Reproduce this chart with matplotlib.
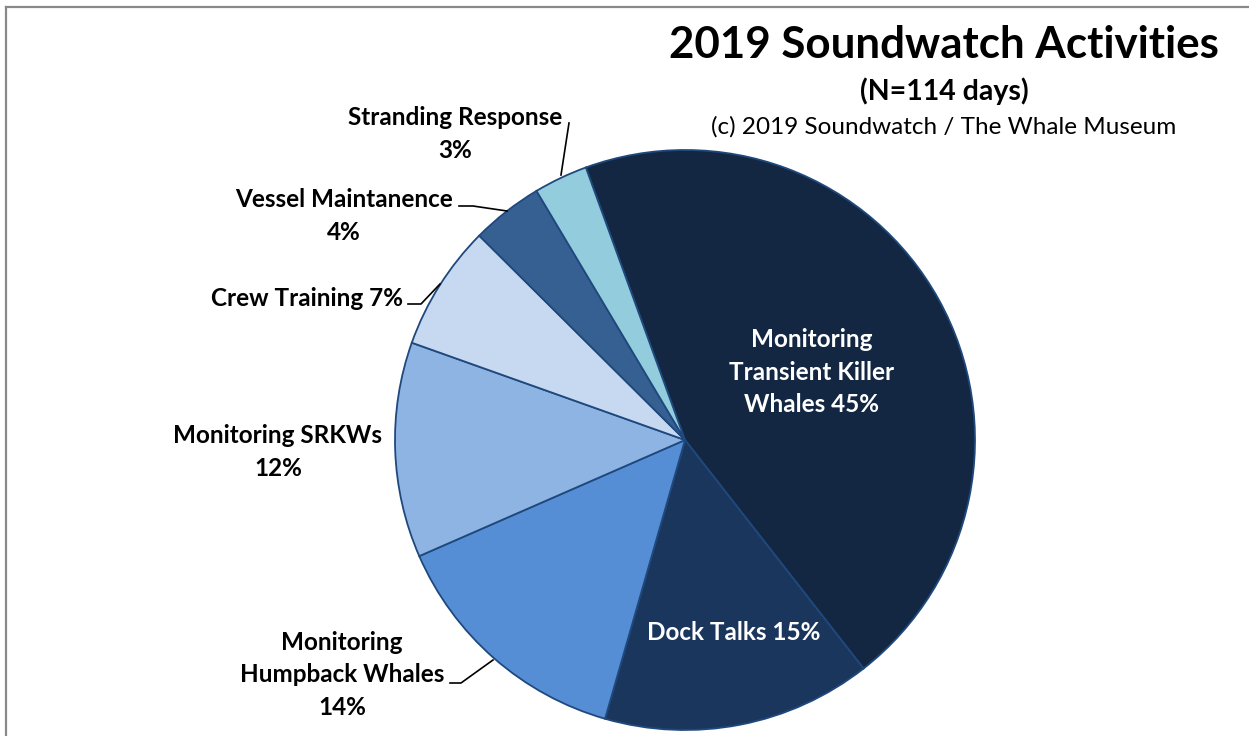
import matplotlib
matplotlib.use('Agg')
import matplotlib.pyplot as plt
from matplotlib.lines import Line2D

plt.rcParams['font.family'] = ['Lato', 'DejaVu Sans']

# slices, clockwise from the top-left boundary
activities = ['Monitoring Transient Killer Whales', 'Dock Talks', 'Monitoring Humpback Whales',
              'Monitoring SRKWs', 'Crew Training', 'Vessel Maintanence', 'Stranding Response']
percent = [45, 15, 14, 12, 7, 4, 3]
colors = ['#132743', '#1b365d', '#558ed5', '#8eb4e3', '#c6d9f1', '#376092', '#93cddd']

W, H = 1249, 736
fig = plt.figure(figsize=(W / 100, H / 100), dpi=100)
ax = fig.add_axes([0, 0, 1, 1])

def py(y):
    # pixel row -> data y
    return H - y

cx, cy, r = 685, 440, 290
ax.pie(percent, colors=colors, startangle=110, counterclock=False,
       center=(cx, py(cy)), radius=r, frame=True,
       wedgeprops=dict(edgecolor='#1f497d', linewidth=1.3))
ax.set_xlim(0, W)
ax.set_ylim(0, H)
ax.set_aspect('equal')
ax.axis('off')

# titles
ax.text(944, py(45), '2019 Soundwatch Activities', fontsize=31.6, fontweight='bold',
        ha='center', va='center')
ax.text(944, py(91), '(N=114 days)', fontsize=20.5, fontweight='bold', ha='center', va='center')
ax.text(944, py(127), '(c) 2019 Soundwatch / The Whale Museum', fontsize=17.5,
        ha='center', va='center')

lab = dict(fontsize=17.5, fontweight='bold', ha='center', va='center', linespacing=1.48)
ax.text(455, py(134), f'{activities[6]}\n{percent[6]}%', **lab)
ax.text(344, py(216), f'{activities[5]}\n{percent[5]}%', **lab)
ax.text(307, py(298), f'{activities[4]} {percent[4]}%', **lab)
ax.text(278, py(452), f'{activities[3]}\n{percent[3]}%', **lab)
ax.text(342, py(675), f'Monitoring\nHumpback Whales\n{percent[2]}%', **lab)
ax.text(734, py(632), f'{activities[1]} {percent[1]}%', color='white', **lab)
ax.text(812, py(372), f'Monitoring\nTransient Killer\nWhales {percent[0]}%', color='white', **lab)

# leader lines
leaders = [
    [(569, 123), (561, 175)],
    [(459, 206), (473, 206), (507, 211)],
    [(408, 304), (421, 304), (440, 284)],
    [(450, 683), (461, 683), (493, 660)],
]
for pts in leaders:
    ax.plot([p[0] for p in pts], [py(p[1]) for p in pts], color='black', linewidth=1.2)

# chart frame (top and left edges visible)
fig.add_artist(Line2D([6 / W, 1], [1 - 7 / H, 1 - 7 / H], color='#898989', linewidth=1.6))
fig.add_artist(Line2D([6 / W, 6 / W], [0, 1 - 7 / H], color='#898989', linewidth=1.6))

fig.savefig('out.png', dpi=100)
